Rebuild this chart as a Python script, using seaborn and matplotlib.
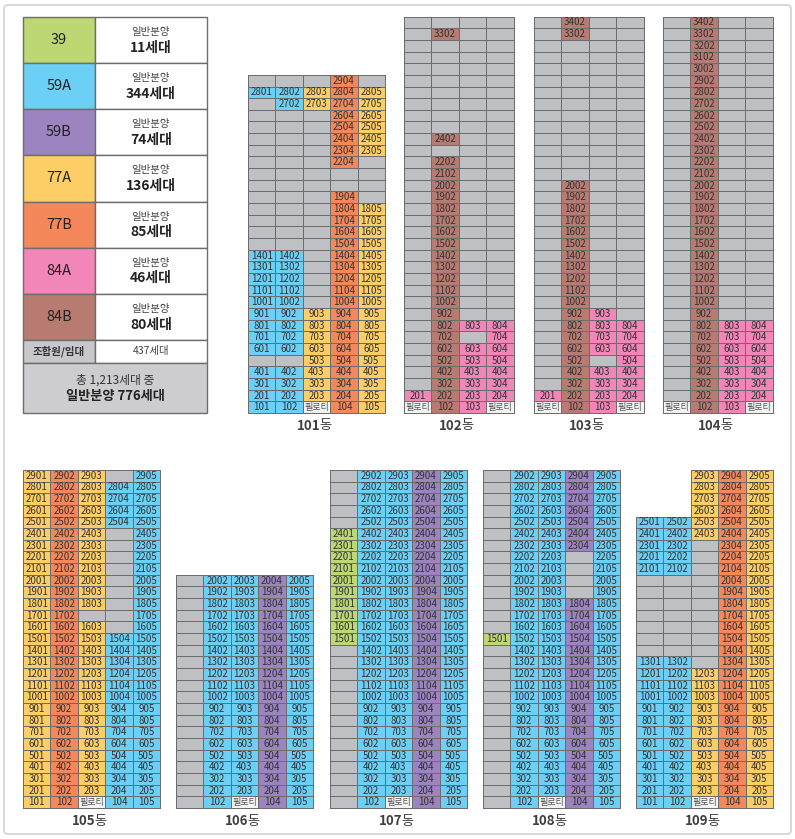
import matplotlib
matplotlib.use('Agg')
import matplotlib.pyplot as plt
from matplotlib.colors import ListedColormap
from matplotlib.patches import Rectangle, FancyBboxPatch
import numpy as np
import seaborn as sns

plt.rcParams['font.family'] = ['Noto Sans CJK KR', 'DejaVu Sans']

# unit type codes: g=조합원/임대, C=39, A=59A, B=59B, Y=77A, O=77B, P=84A, R=84B, L=필로티, .=no unit
type_codes = ['g', 'C', 'A', 'B', 'Y', 'O', 'P', 'R', 'L']
type_colors = ['#bfc0c4', '#bdd873', '#6bcff6', '#9b84c0', '#fece66',
               '#f5885a', '#f286b8', '#b77b71', '#f3f3f3']

legend_types = ['39', '59A', '59B', '77A', '77B', '84A', '84B']
legend_counts = [11, 344, 74, 136, 85, 46, 80]
rental_count = 437
total_count = '1,213'
sale_count = 776

# each building: rows from top floor down to 1st floor
dong_101 = [
    "gggOg", "AAYOY", "gAYOY", "gggOY", "gggOY", "gggOY", "gggOY", "gggOg",
    "ggggg", "ggggg", "gggOg", "gggOY", "gggOY", "gggOY", "gggOY", "AAgOY",
    "AAgOY", "AAgOY", "AAgOY", "AAgOY", "AAYOY", "AAYOY", "AAYOY", "AAYOY",
    "ggYOY", "AAYOY", "AAYOY", "AAYOY", "AALOY",
]
dong_102 = [
    "gggg", "gRgg", "gggg", "gggg", "gggg", "gggg", "gggg", "gggg",
    "gggg", "gggg", "gRgg", "gggg", "gRgg", "gRgg", "gRgg", "gRgg",
    "gRgg", "gRgg", "gRgg", "gRgg", "gRgg", "gRgg", "gRgg", "gRgg",
    "gRgg", "gRgg", "gRPP", "gRgP", "gRPP", "gRPP", "gRPP", "gRPP",
    "PRPP", "LRPL",
]
dong_103 = [
    "gRgg", "gRgg", "gggg", "gggg", "gggg", "gggg", "gggg", "gggg",
    "gggg", "gggg", "gggg", "gggg", "gggg", "gggg", "gRgg", "gRgg",
    "gRgg", "gRgg", "gRgg", "gRgg", "gRgg", "gRgg", "gRgg", "gRgg",
    "gRgg", "gRPg", "gRPP", "gRPP", "gRPP", "gRgP", "gRPP", "gRPP",
    "PRPP", "LRPL",
]
dong_104 = [
    "gRgg", "gRgg", "gRgg", "gRgg", "gRgg", "gRgg", "gRgg", "gRgg",
    "gRgg", "gRgg", "gRgg", "gRgg", "gRgg", "gRgg", "gRgg", "gRgg",
    "gRgg", "gRgg", "gRgg", "gRgg", "gRgg", "gRgg", "gRgg", "gRgg",
    "gRgg", "gRgg", "gRPP", "gRPP", "gRPP", "gRPP", "gRPP", "gRPP",
    "gRPP", "LRPL",
]
dong_105 = [
    "YOYgA", "YOYAA", "YOYAA", "YOYAA", "YOYAA", "YOYgA", "YOYgA", "YOYgA",
    "YOYgA", "YOYgA", "YOYgA", "YOYgA", "YOggA", "YOYgA", "YOYAA", "YOYAA",
    "YOYAA", "YOYAA", "YOYAA", "YOYAA", "YOYAA", "YOYAA", "YOYAA", "YOYAA",
    "YOYAA", "YOYAA", "YOYAA", "YOYAA", "YOLAA",
]
dong_106 = [
    "gAABA", "gAABA", "gAABA", "gAABA", "gAABA", "gAABA", "gAABA", "gAABA",
    "gAABA", "gAABA", "gAABA", "gAABA", "gAABA", "gAABA", "gAABA", "gAABA",
    "gAABA", "gAABA", "gAABA", "gALBA",
]
dong_107 = [
    "gAABA", "gAABA", "gAABA", "gAABA", "gAABA", "CAABA", "CAABA", "CAABA",
    "CAABA", "CAABA", "CAABA", "CAABA", "CAABA", "CAABA", "CAABA", "gAABA",
    "gAABA", "gAABA", "gAABA", "gAABA", "gAABA", "gAABA", "gAABA", "gAABA",
    "gAABA", "gAABA", "gAABA", "gAABA", "gALBA",
]
dong_108 = [
    "gAABA", "gAABA", "gAABA", "gAABA", "gAABA", "gAABA", "gAABA", "gAAgA",
    "gAAgA", "gAAgA", "gAAgA", "gAABA", "gAABA", "gAABA", "CAABA", "gAABA",
    "gAABA", "gAABA", "gAABA", "gAABA", "gAABA", "gAABA", "gAABA", "gAABA",
    "gAABA", "gAABA", "gAABA", "gAABA", "gALBA",
]
dong_109 = [
    "..YOY", "..YOY", "..YOY", "..YOY", "AAYOY", "AAYOY", "AAgOY", "AAgOY",
    "AAgOY", "gggOY", "gggOY", "gggOY", "gggOY", "gggOY", "gggOY", "gggOY",
    "AAgOY", "AAYOY", "AAYOY", "AAYOY", "AAYOY", "AAYOY", "AAYOY", "AAYOY",
    "AAYOY", "AAYOY", "AAYOY", "AAYOY", "AALOY",
]

dongs = {'101': dong_101, '102': dong_102, '103': dong_103, '104': dong_104,
         '105': dong_105, '106': dong_106, '107': dong_107, '108': dong_108,
         '109': dong_109}

# layout in pixels: left edge, bottom edge of each building
W, H = 795, 839
cell_w, cell_h = 27.4, 11.66
dong_pos = {'101': (248, 413), '102': (404, 413), '103': (534, 413), '104': (663, 413),
            '105': (23, 808), '106': (176, 808), '107': (330, 808), '108': (483, 808),
            '109': (636, 808)}
edge_col = '#6d6d6d'
text_col = '#333333'

fig = plt.figure(figsize=(W / 100, H / 100), dpi=100)
bg = fig.add_axes([0, 0, 1, 1], zorder=0)
bg.set_xlim(0, W)
bg.set_ylim(H, 0)
bg.axis('off')

# outer frame
bg.add_patch(FancyBboxPatch((4, 5), W - 8, H - 10, boxstyle='round,pad=0,rounding_size=4',
                            fc='none', ec='#d2d2d2', lw=1.2))

cmap = ListedColormap(type_colors)

for name, rows in dongs.items():
    nrows, ncols = len(rows), len(rows[0])
    mat = np.zeros((nrows, ncols))
    mask = np.zeros((nrows, ncols), dtype=bool)
    labels = np.full((nrows, ncols), '', dtype=object)
    for i, row in enumerate(rows):
        floor = nrows - i
        for j, c in enumerate(row):
            if c == '.':
                mask[i, j] = True
                continue
            mat[i, j] = type_codes.index(c)
            if c == 'L':
                labels[i, j] = '필로티'
            elif c != 'g':
                labels[i, j] = f'{floor}{j + 1:02d}'
    left, bottom = dong_pos[name]
    w, h = ncols * cell_w, nrows * cell_h
    ax = fig.add_axes([left / W, (H - bottom) / H, w / W, h / H], zorder=2)
    sns.heatmap(mat, mask=mask, cmap=cmap, vmin=-0.5, vmax=len(type_codes) - 0.5,
                annot=labels, fmt='', annot_kws={'fontsize': 7, 'color': text_col},
                linewidths=0.7, linecolor=edge_col, cbar=False,
                xticklabels=False, yticklabels=False, ax=ax)
    ax.set_facecolor('none')
    mesh = ax.collections[0]
    mesh.set_clip_on(False)
    # no outline for cells that do not exist
    if mask.any():
        ec = np.tile(matplotlib.colors.to_rgba(edge_col), (mask.size, 1))
        ec[mask.ravel()] = (0, 0, 0, 0)
        mesh.set_edgecolor(ec)
    for t in ax.texts:
        if t.get_text() == '필로티':
            t.set_fontsize(6.5)
            t.set_color('#555555')

    # building label
    cx = left + w / 2
    ly = bottom + 13
    t = bg.text(cx + 4, ly, name, ha='right', va='center', fontsize=9.5,
                fontweight='bold', color='#3f3f3f')
    bg.annotate('동', xy=(1, 0.5), xycoords=t, xytext=(-1, 0), textcoords='offset points',
                ha='left', va='center', fontsize=9.5, color='#3f3f3f')

# legend table
x0, x1, x2 = 23, 95, 207
top = 17
rh = 46.14
for i, (lab, cnt) in enumerate(zip(legend_types, legend_counts)):
    y = top + i * rh
    bg.add_patch(Rectangle((x0, y), x1 - x0, rh, fc=type_colors[i + 1], ec=edge_col, lw=1))
    bg.add_patch(Rectangle((x1, y), x2 - x1, rh, fc='white', ec=edge_col, lw=1))
    bg.text((x0 + x1) / 2, y + rh / 2, lab, ha='center', va='center', fontsize=10.5,
            fontweight='medium', color='#222222')
    bg.text((x1 + x2) / 2, y + rh / 2 - 8, '일반분양', ha='center', va='center',
            fontsize=7.5, color='#444444')
    bg.text((x1 + x2) / 2, y + rh / 2 + 7.5, f'{cnt}세대', ha='center', va='center',
            fontsize=10, fontweight='bold', color='#222222')

y = top + 7 * rh
bg.add_patch(Rectangle((x0, y), x1 - x0, 23, fc='#c8c8ca', ec=edge_col, lw=1))
bg.add_patch(Rectangle((x1, y), x2 - x1, 23, fc='white', ec=edge_col, lw=1))
bg.text((x0 + x1) / 2, y + 11.5, '조합원/임대', ha='center', va='center', fontsize=7.5,
        fontweight='bold', color='#333333')
bg.text((x1 + x2) / 2, y + 11.5, f'{rental_count}세대', ha='center', va='center',
        fontsize=7.5, color='#444444')

y = y + 23
bg.add_patch(Rectangle((x0, y), x2 - x0, 50, fc='#cdcdcf', ec=edge_col, lw=1))
bg.text((x0 + x2) / 2, y + 17, f'총 {total_count}세대 중', ha='center', va='center',
        fontsize=8.5, color='#333333')
bg.text((x0 + x2) / 2, y + 33.5, f'일반분양 {sale_count}세대', ha='center', va='center',
        fontsize=9.5, fontweight='bold', color='#222222')

fig.savefig('out.png', dpi=100)
